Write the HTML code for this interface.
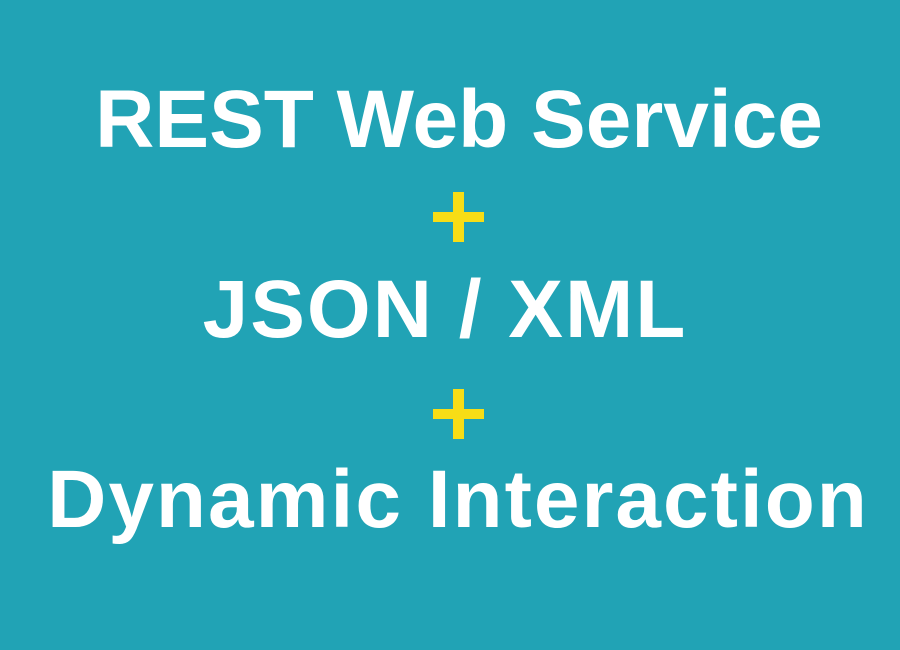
<!DOCTYPE html>
<html><head><style>
body{margin:0;width:900px;height:650px;background:#21a3b5;position:relative;overflow:hidden;font-family:"Liberation Sans",sans-serif;font-weight:bold;color:#fff}
.t{position:absolute;left:0;width:900px;text-align:center;font-size:82px;line-height:1;white-space:nowrap}
.h,.v{position:absolute;background:#f7dd16}
</style></head><body>
<div class="t" style="top:79px;left:9px">REST Web Service</div>
<div class="h" style="left:433px;top:212px;width:51px;height:10px"></div>
<div class="v" style="left:453px;top:192px;width:11px;height:50px"></div>
<div class="t" style="top:269px;left:-5px;letter-spacing:2px">JSON / XML</div>
<div class="h" style="left:433px;top:409px;width:51px;height:10px"></div>
<div class="v" style="left:453px;top:389px;width:11px;height:50px"></div>
<div class="t" style="top:459px;left:8px;letter-spacing:2px">Dynamic Interaction</div>
</body></html>
